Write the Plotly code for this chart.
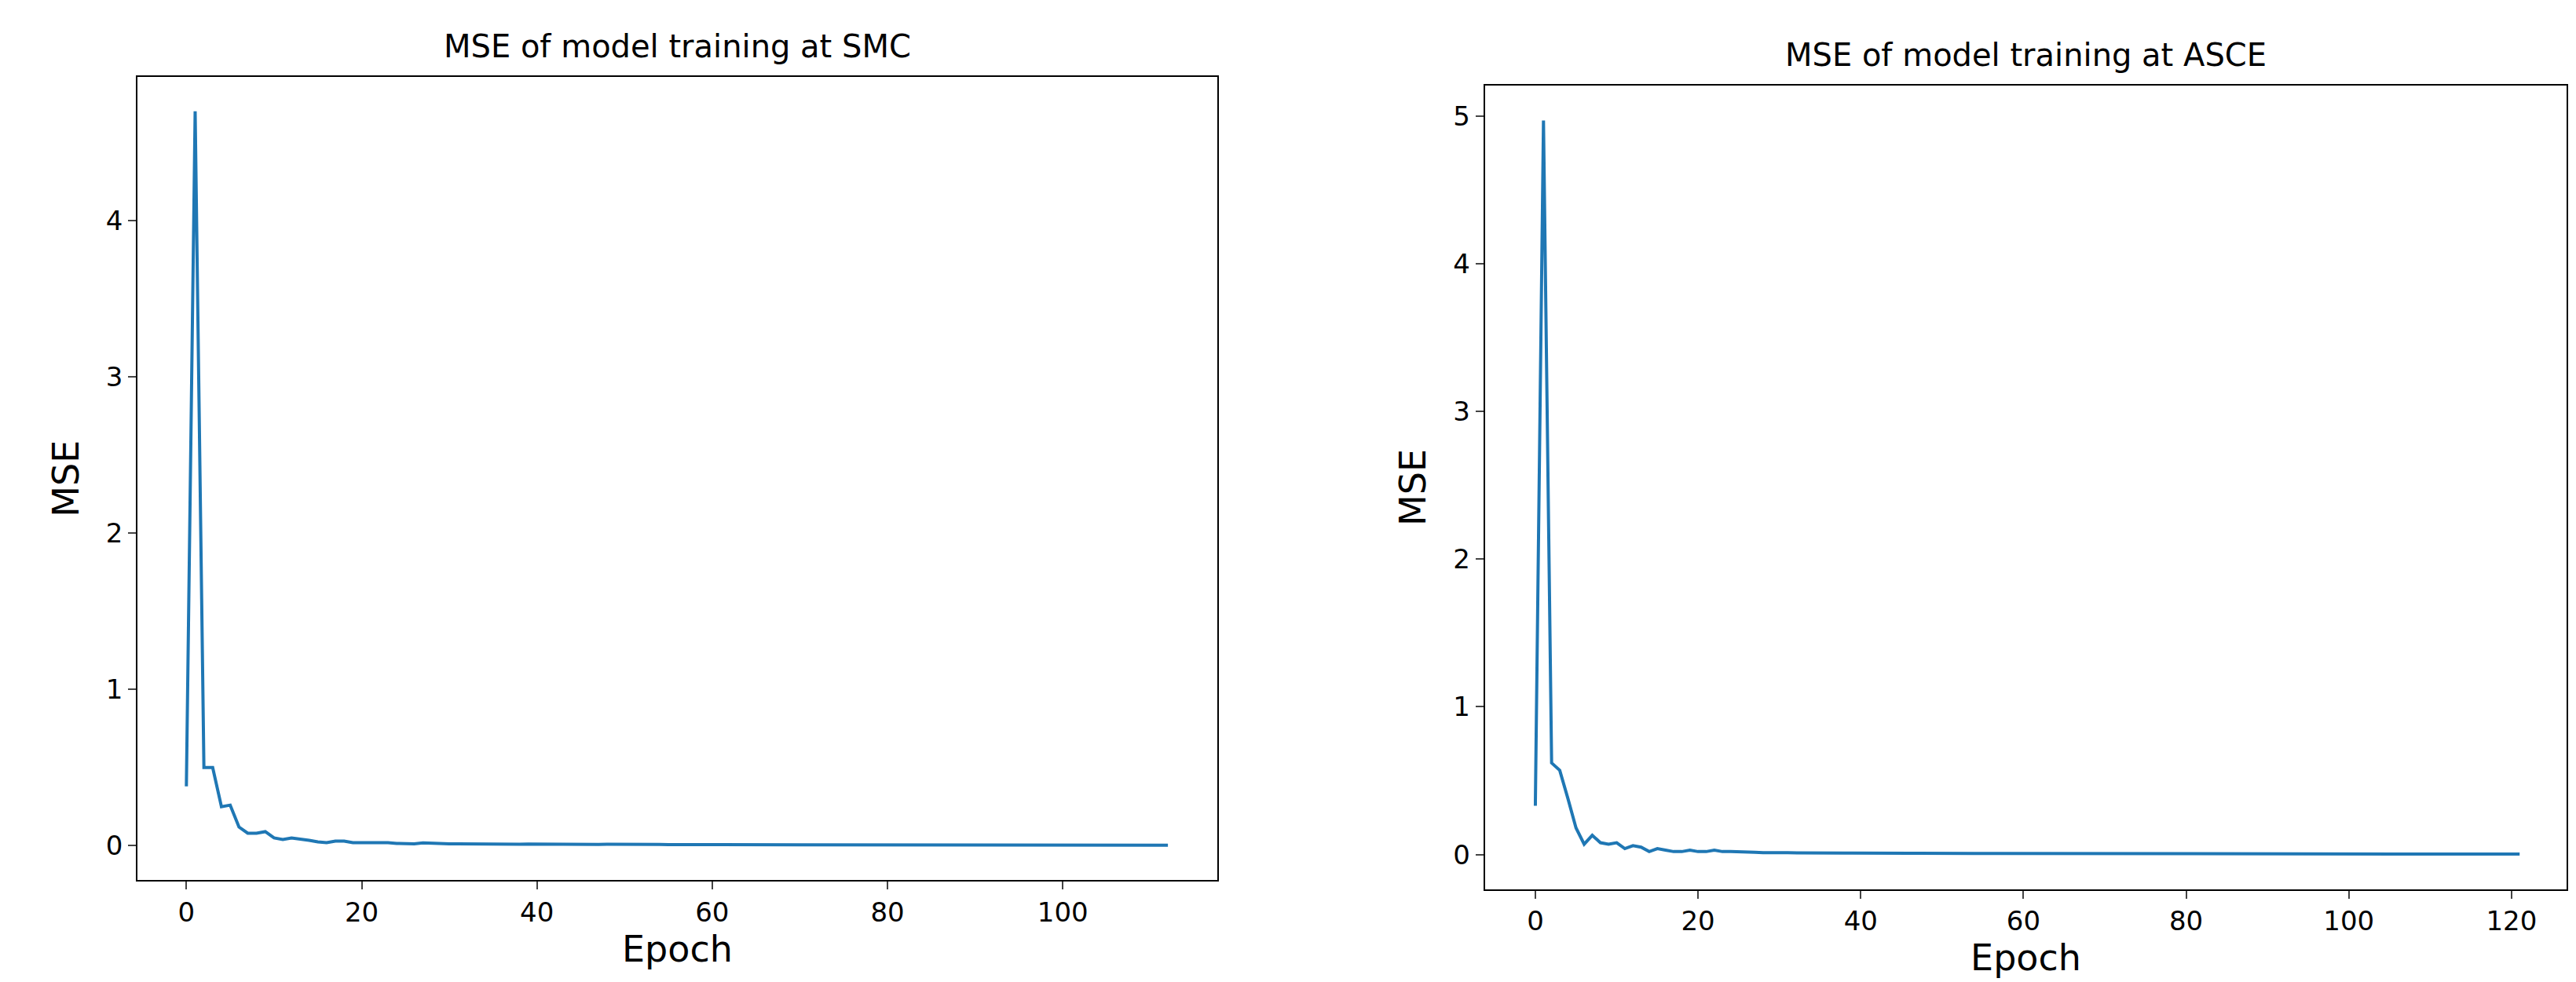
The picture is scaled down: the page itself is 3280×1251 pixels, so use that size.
import plotly.graph_objects as go

smc_mse = [0.38, 4.70, 0.50, 0.50, 0.25, 0.26, 0.12, 0.08, 0.08, 0.09, 0.05, 0.04, 0.05, 0.045, 0.035, 0.025,
           0.02, 0.03, 0.03, 0.02, 0.02, 0.02, 0.022, 0.02, 0.015, 0.012, 0.012, 0.018, 0.015, 0.013,
           0.012, 0.012, 0.011, 0.012, 0.011, 0.010, 0.011, 0.010, 0.010, 0.011, 0.010, 0.009, 0.010, 0.009,
           0.010, 0.009, 0.009, 0.008, 0.009, 0.008, 0.008, 0.009, 0.008, 0.008, 0.008, 0.007, 0.008, 0.007,
           0.008, 0.007, 0.007, 0.007, 0.007, 0.006, 0.007, 0.007, 0.006, 0.006, 0.007, 0.006, 0.006, 0.006,
           0.006, 0.006, 0.005, 0.006, 0.006, 0.005, 0.006, 0.005, 0.005, 0.005, 0.006, 0.005, 0.005, 0.005,
           0.005, 0.005, 0.005, 0.004, 0.005, 0.005, 0.004, 0.005, 0.004, 0.004, 0.005, 0.004, 0.004, 0.004,
           0.004, 0.004, 0.004, 0.004, 0.004, 0.003, 0.004, 0.004, 0.003, 0.004, 0.003, 0.003, 0.003]
asce_mse = [0.33, 4.97, 0.62, 0.57, 0.38, 0.18, 0.07, 0.13, 0.08, 0.07, 0.08, 0.04, 0.06, 0.05, 0.02,
            0.04, 0.03, 0.02, 0.02, 0.03, 0.02, 0.02, 0.03, 0.02, 0.02, 0.02, 0.015, 0.015, 0.012, 0.014,
            0.012, 0.012, 0.011, 0.012, 0.011, 0.010, 0.011, 0.010, 0.010, 0.010, 0.009, 0.010, 0.009, 0.009,
            0.009, 0.009, 0.008, 0.009, 0.008, 0.008, 0.008, 0.008, 0.007, 0.008, 0.007, 0.007, 0.007, 0.007,
            0.007, 0.006, 0.007, 0.006, 0.006, 0.006, 0.006, 0.006, 0.006, 0.005, 0.006, 0.005, 0.005, 0.005,
            0.005, 0.005, 0.005, 0.005, 0.005, 0.005, 0.004, 0.005, 0.004, 0.004, 0.004, 0.004, 0.004, 0.004,
            0.004, 0.004, 0.004, 0.004, 0.004, 0.004, 0.004, 0.003, 0.004, 0.003, 0.003, 0.003, 0.003, 0.003,
            0.003, 0.003, 0.003, 0.003, 0.003, 0.003, 0.003, 0.003, 0.003, 0.003, 0.003, 0.003, 0.003, 0.003,
            0.003, 0.003, 0.003, 0.003, 0.003, 0.003, 0.003, 0.003]
titles = ["MSE of model training at SMC", "MSE of model training at ASCE"]

FONT = "DejaVu Sans"
fig = go.Figure()
fig.add_trace(go.Scatter(x=list(range(len(smc_mse))), y=smc_mse, mode="lines",
                         line=dict(color="#1f77b4", width=4), xaxis="x", yaxis="y"))
fig.add_trace(go.Scatter(x=list(range(len(asce_mse))), y=asce_mse, mode="lines",
                         line=dict(color="#1f77b4", width=4), xaxis="x2", yaxis="y2"))

ax = dict(showline=True, mirror=True, linecolor="black", linewidth=2, ticks="outside",
          ticklen=10, tickwidth=2, showgrid=False, zeroline=False,
          tickfont=dict(family=FONT, size=34, color="black"))
fig.update_layout(
    width=3280, height=1251, plot_bgcolor="white", paper_bgcolor="white",
    showlegend=False, margin=dict(l=0, r=0, t=0, b=0),
    font=dict(family=FONT, color="black"),
    xaxis=dict(ax, domain=[0.051, 0.470], range=[-5.56, 117.6], dtick=20, anchor="y",
               title=dict(text="Epoch", font=dict(size=46), standoff=10)),
    yaxis=dict(ax, domain=[0.110, 0.928], range=[-0.221, 4.92], dtick=1, anchor="x",
               title=dict(text="MSE", font=dict(size=46), standoff=20)),
    xaxis2=dict(ax, domain=[0.574, 0.994], range=[-6.2, 126.8], dtick=20, anchor="y2",
                title=dict(text="Epoch", font=dict(size=46), standoff=10)),
    yaxis2=dict(ax, domain=[0.101, 0.919], range=[-0.234, 5.205], dtick=1, anchor="x2",
                title=dict(text="MSE", font=dict(size=46), standoff=20)),
    annotations=[
        dict(text=titles[0], x=(0.051 + 0.470) / 2, y=0.928, xref="paper", yref="paper",
             xanchor="center", yanchor="bottom", yshift=14, showarrow=False,
             font=dict(family=FONT, size=40, color="black")),
        dict(text=titles[1], x=(0.574 + 0.994) / 2, y=0.919, xref="paper", yref="paper",
             xanchor="center", yanchor="bottom", yshift=14, showarrow=False,
             font=dict(family=FONT, size=40, color="black")),
    ],
)
fig.write_html("out.html")
